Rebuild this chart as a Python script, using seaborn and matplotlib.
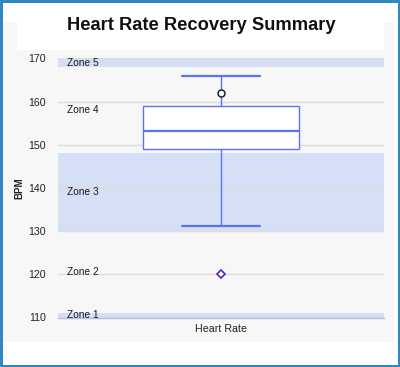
import matplotlib
matplotlib.use("Agg")
import matplotlib.pyplot as plt
from matplotlib.patches import Rectangle
import seaborn as sns
import pandas as pd

# five-number summary (min, q1, median, q3, max)
hr_summary = [131.2, 149.0, 153.1, 158.9, 166.0]
metric = "Heart Rate"
circle_value = [162.0]
diamond_value = [120.0]

zone_names = ["Zone 1", "Zone 2", "Zone 3", "Zone 4", "Zone 5"]
zone_edges = [100, 111, 130, 148, 168, 180]
zone_shaded = [True, False, True, False, True]

y_ticks = [110, 120, 130, 140, 150, 160, 170]

sns.set_style("white")
plt.rcParams["font.family"] = ["Liberation Sans", "DejaVu Sans"]

blue = "#5b72f2"
band = "#d5dff5"
ylo, yhi = 109.9, 170.1

fig = plt.figure(figsize=(4.0, 3.67), dpi=100)
fig.patch.set_facecolor("white")

# grey panel, white title strip, blue frame
fig.patches.append(Rectangle((3 / 400, 25 / 367), 391 / 400, 320 / 367,
                             transform=fig.transFigure, facecolor="#f7f7f7",
                             edgecolor="none", zorder=-2))
fig.patches.append(Rectangle((17 / 400, 317 / 367), 367 / 400, 50 / 367,
                             transform=fig.transFigure, facecolor="white",
                             edgecolor="none", zorder=-1))
fig.patches.append(Rectangle((0, 0), 1, 1, transform=fig.transFigure,
                             facecolor="none", edgecolor="#2f88c0",
                             linewidth=3.6, zorder=5))

fig.text(0.503, 1 - 25 / 367, "Heart Rate Recovery Summary", ha="center",
         va="center", fontsize=13.2, fontweight="bold", color="#111111")

ax = fig.add_axes([58 / 400, 49.5 / 367, 326 / 400, 259.5 / 367])
ax.set_facecolor("none")

df = pd.DataFrame({"metric": [metric] * len(hr_summary), "bpm": hr_summary})

# zone bands + labels
for i, name in enumerate(zone_names):
    lo, hi = zone_edges[i], zone_edges[i + 1]
    if zone_shaded[i]:
        ax.axhspan(lo, hi, color=band, zorder=0.2, lw=0)
    mid = (max(lo, ylo) + min(hi, yhi)) / 2
    ax.text(0.028, mid, name, transform=ax.get_yaxis_transform(),
            fontsize=7.3, color="#1a1a1a", va="center", ha="left", zorder=3)

sns.boxplot(data=df, x="metric", y="bpm", whis=(0, 100), width=0.48,
            color="white", linecolor=blue, linewidth=1, showfliers=False,
            medianprops=dict(linewidth=1.6), capprops=dict(linewidth=1.6),
            ax=ax)

ax.plot([metric] * len(circle_value), circle_value, marker="o", ls="none",
        ms=5, mfc="white", mec="#222222", mew=1.1, zorder=4)
ax.plot([metric] * len(diamond_value), diamond_value, marker="D", ls="none",
        ms=4, mfc="white", mec="#5522cc", mew=1.2, zorder=4)

ax.set_ylim(ylo, yhi)
ax.set_xlim(-0.5, 0.5)
ax.set_yticks(y_ticks)
ax.yaxis.grid(True, color="#dcdcdc", linewidth=1)
ax.set_axisbelow(True)
ax.tick_params(axis="y", length=0, pad=8.5, labelsize=7.7, labelcolor="#222222")

ax.set_xticks([0])
ax.set_xticklabels([metric])
ax.set_xticks([-0.5, 0.5], minor=True)
ax.tick_params(axis="x", which="major", length=0, pad=5, labelsize=7.7,
               labelcolor="#222222")
ax.tick_params(axis="x", which="minor", length=6.5, width=1, color="#b3bee8",
               direction="out")
ax.set_xlabel("")
ax.set_ylabel("BPM", fontsize=7, fontweight="bold", color="#222222",
              labelpad=3)

for s in ["top", "right", "left"]:
    ax.spines[s].set_visible(False)
ax.spines["bottom"].set_color("#b3bee8")
ax.spines["bottom"].set_linewidth(1)

fig.savefig("out.png", dpi=100)
